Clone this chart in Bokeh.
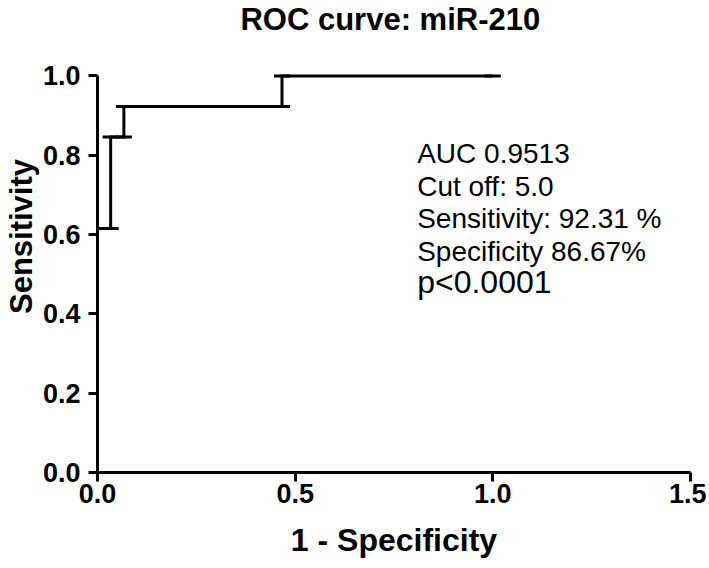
from bokeh.plotting import figure
from bokeh.models import Range1d, Label, FixedTicker, NumeralTickFormatter
from bokeh.embed import file_html
from bokeh.resources import INLINE

# ROC curve points (1 - specificity, sensitivity)
fpr = [0.0, 0.0, 0.0333, 0.0333, 0.0667, 0.0667, 0.4667, 0.4667, 1.0]
tpr = [0.0, 0.6154, 0.6154, 0.8462, 0.8462, 0.9231, 0.9231, 1.0, 1.0]
x_ticks = [0.0, 0.5, 1.0, 1.5]
y_ticks = [0.0, 0.2, 0.4, 0.6, 0.8, 1.0]
stats_lines = ["AUC 0.9513", "Cut off: 5.0", "Sensitivity: 92.31 %", "Specificity 86.67%"]
p_value_text = "p<0.0001"
title_text = "ROC curve: miR-210"
x_label = "1 - Specificity"
y_label = "Sensitivity"

FONT = "Liberation Sans"

# the frame reaches the top of the canvas so that the title can sit inside it
p = figure(width=706, height=566,
           x_range=Range1d(0, 1.5), y_range=Range1d(0, 1.1904),
           output_backend="svg", toolbar_location=None,
           min_border_left=97, min_border_right=16, min_border_top=0, min_border_bottom=94)
p.outline_line_color = None
p.xgrid.grid_line_color = None
p.ygrid.grid_line_color = None
p.background_fill_color = "white"
p.border_fill_color = "white"

for ax in (p.xaxis[0], p.yaxis[0]):
    ax.axis_line_width = 3
    ax.axis_line_color = "black"
    ax.major_tick_line_width = 3
    ax.major_tick_line_color = "black"
    ax.major_tick_out = 9
    ax.major_tick_in = 0
    ax.minor_tick_out = 0
    ax.minor_tick_in = 0
    ax.major_label_text_font = FONT
    ax.major_label_text_font_style = "bold"
    ax.major_label_text_font_size = "27px"
    ax.major_label_text_color = "black"
    ax.axis_label_text_font = FONT
    ax.axis_label_text_font_style = "bold"
    ax.axis_label_text_color = "black"
    ax.formatter = NumeralTickFormatter(format="0.0")

p.xaxis.ticker = FixedTicker(ticks=x_ticks)
p.yaxis.ticker = FixedTicker(ticks=y_ticks)
p.xaxis.bounds = (0, 1.5)
p.yaxis.bounds = (0, 1.0)
p.xaxis.major_label_standoff = 2
p.yaxis.major_label_standoff = 8
p.xaxis.axis_label = x_label
p.yaxis.axis_label = y_label
p.xaxis.axis_label_text_font_size = "32px"
p.yaxis.axis_label_text_font_size = "31px"
p.xaxis.axis_label_standoff = 16
p.yaxis.axis_label_standoff = 1

# chart title
p.add_layout(Label(x=0.7407, y=1.142, text=title_text,
                   text_align="center", text_baseline="alphabetic",
                   text_font=FONT, text_font_size="31px", text_font_style="bold",
                   text_color="black"))

p.line(fpr, tpr, line_width=3, color="black", line_join="miter")
p.scatter(fpr, tpr, marker="dash", size=16, line_width=3, color="black")

x0 = 0.8086
y0 = 0.805
step = 0.0825
for i, t in enumerate(stats_lines):
    p.add_layout(Label(x=x0, y=y0 - i * step, text=t, text_font=FONT,
                       text_font_size="28px", text_baseline="alphabetic",
                       text_color="black"))
p.add_layout(Label(x=x0, y=y0 - len(stats_lines) * step + 0.005, text=p_value_text,
                   text_font=FONT, text_font_size="32px", text_baseline="alphabetic",
                   text_color="black"))

open("out.html", "w").write(file_html(p, INLINE))
